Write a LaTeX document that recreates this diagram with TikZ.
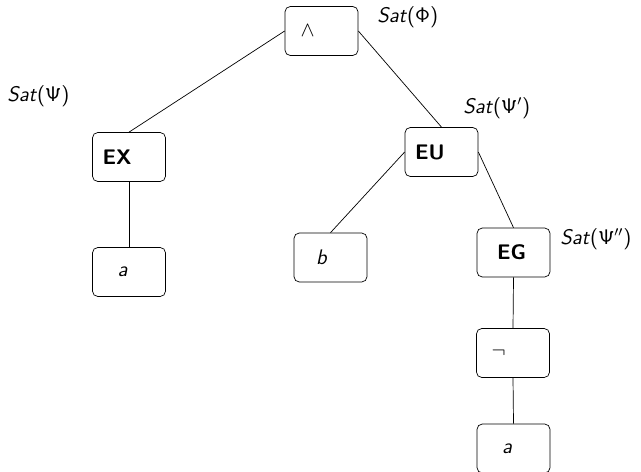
\documentclass[tikz,border=0pt]{standalone}
\usetikzlibrary{positioning}

\tikzset{
  opbox/.style={draw, rounded corners=3pt, minimum width=1.46cm, minimum height=0.98cm,
    inner xsep=0.2cm, text width=1.06cm, align=left},
  satlbl/.style={inner sep=0pt, anchor=west},
}
\newcommand{\satof}[1]{\textit{Sat}($#1$)}

\begin{document}
\begin{tikzpicture}[x=0.02cm, y=-0.02cm, font=\sffamily\large]
  % canvas (pixel grid, y downwards)
  \useasboundingbox (0,0) rectangle (641,472);

  % formula tree
  \node[opbox] (and) at (321.5,31) {\hspace*{.11cm}$\wedge$};
  \node[opbox] (ex) at (129,157) {\textbf{EX}};
  \node[opbox] (a1) at (129,272) {\hspace*{.3cm}\textit{a}};
  \node[opbox] (eu) at (441.5,152) {\textbf{EU}};
  \node[opbox] (b) at (330.5,257.5) {\hspace*{.24cm}\textit{b}};
  \node[opbox] (eg) at (513.5,252.5) {\hspace*{.2cm}\textbf{EG}};
  \node[opbox] (neg) at (513,353) {\hspace*{.1cm}$\neg$};
  \node[opbox] (a2) at (513.5,448.5) {\hspace*{.3cm}\textit{a}};

  % edges
  \draw (and.west) -- (ex.north);
  \draw (and.east) -- (eu.north);
  \draw (ex.south) -- (a1.north);
  \draw (eu.west) -- (b.north);
  \draw (eu.east) -- (eg.north);
  \draw (eg.south) -- (neg.north);
  \draw (neg.south) -- (a2.north);

  % satisfaction sets
  \node[satlbl] (satphi) at (377,17) {\satof{\mathsf{\Phi}}};
  \node[satlbl] (satpsi) at (7,96) {\satof{\mathsf{\Psi}}};
  \node[satlbl] (satpsi1) at (463,108) {\satof{\mathsf{\Psi}'}};
  \node[satlbl] (satpsi2) at (560,239) {\satof{\mathsf{\Psi}''}};
\end{tikzpicture}
\end{document}
